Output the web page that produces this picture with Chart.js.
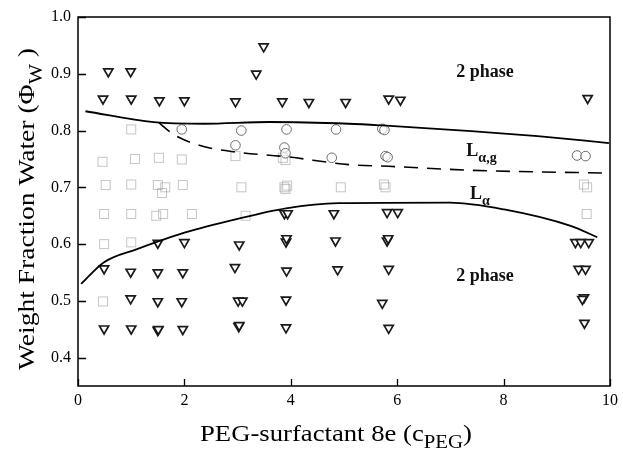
<!DOCTYPE html>
<html><head><meta charset="utf-8">
<script src="https://cdn.jsdelivr.net/npm/chart.js@4.4.0/dist/chart.umd.min.js"></script>
<style>html,body{margin:0;padding:0;background:#fff;}</style>
</head><body>
<canvas id="c" width="623" height="458"></canvas>
<script>
// ---- data ----
const xTicks = [0, 2, 4, 6, 8, 10];
const yTicks = [0.4, 0.5, 0.6, 0.7, 0.8, 0.9, 1.0];

// two-phase samples (triangles)
const triX = [0.57,0.99,3.49,3.35, 0.47,1.0,1.53,2.0,2.96,3.84,4.34,5.03,5.84,6.06,9.58,
  1.5,2.0,3.03,3.91,3.92,4.84,5.81,5.83,9.35,9.45,9.6,
  3.88,3.94,4.81,5.81,6.01,
  0.49,0.99,1.5,1.97,2.95,3.92,4.88,5.84,9.41,9.54,
  0.99,1.5,1.95,3.01,3.09,3.91,5.72,9.51,9.48,
  0.49,1.0,1.5,1.51,1.97,3.02,3.03,3.91,5.84,9.52];
const triY = [0.904,0.904,0.948,0.90, 0.856,0.856,0.853,0.853,0.851,0.851,0.85,0.85,0.856,0.854,0.857,
  0.602,0.603,0.599,0.604,0.61,0.606,0.606,0.61,0.603,0.603,0.603,
  0.654,0.654,0.654,0.656,0.656,
  0.557,0.551,0.55,0.55,0.559,0.553,0.555,0.556,0.556,0.556,
  0.504,0.499,0.499,0.50,0.50,0.502,0.496,0.506,0.503,
  0.451,0.451,0.448,0.45,0.45,0.455,0.457,0.453,0.452,0.461];

// L alpha,g samples (circles)
const circX = [1.95,3.07,3.92,4.85,5.72,5.76,2.96,3.88,3.9,4.77,5.78,5.82,9.38,9.54];
const circY = [0.802,0.80,0.802,0.802,0.803,0.801,0.774,0.77,0.76,0.752,0.755,0.753,0.756,0.755];

// L alpha samples (squares)
const sqX = [1.0, 0.46,1.07,1.52,1.95,2.96,3.85,3.9,
  0.52,1.0,1.5,1.64,1.58,1.97,3.07,3.88,3.93,3.9,4.94,5.75,5.78,9.51,9.57,
  0.49,1.0,1.47,1.6,2.14,3.15,9.56,
  0.49,1.0, 0.47];
const sqY = [0.802, 0.745,0.75,0.752,0.749,0.755,0.752,0.748,
  0.704,0.705,0.704,0.70,0.69,0.704,0.70,0.70,0.703,0.697,0.70,0.705,0.70,0.705,0.70,
  0.653,0.653,0.65,0.653,0.653,0.65,0.653,
  0.60,0.603, 0.499];

// phase boundaries
const upperX = [0.14,1.42,2.36,3.6,5.09,5.72,7.39,8.64,9.98];
const upperY = [0.834,0.815,0.812,0.815,0.812,0.809,0.799,0.79,0.778];
const dashX = [1.52,1.8,2.36,2.98,3.91,5.09,5.84,7.39,9.98];
const dashY = [0.814,0.793,0.772,0.762,0.754,0.74,0.737,0.73,0.725];
const lowerX = [0.06,0.49,1.11,2.0,2.98,3.91,4.9,6.99,8.01,9.26,9.76];
const lowerY = [0.53,0.568,0.591,0.62,0.644,0.663,0.672,0.673,0.661,0.632,0.612];

const zip = (xs, ys) => xs.map((x, i) => ({x: x, y: ys[i]}));

// region labels: [main, subscript, x, y]
const regionLabels = [
  ['2 phase', '', 7.65, 0.905],
  ['L', 'α,g', 7.3, 0.765],
  ['L', 'α', 7.37, 0.69],
  ['2 phase', '', 7.65, 0.545]
];

// ---- styles ----
const SERIF = '"Liberation Serif", "DejaVu Serif", serif';
function dottedSquare() {
  const c = document.createElement('canvas');
  c.width = 12; c.height = 12;
  const g = c.getContext('2d');
  g.strokeStyle = '#8a8a8a'; g.lineWidth = 1;
  g.setLineDash([1, 1]);
  g.strokeRect(1.5, 1.5, 9, 9);
  return c;
}

function measureRich(ctx, parts, size, weight) {
  let w = 0;
  parts.forEach(p => {
    const s = p.sub ? size * 0.78 : size;
    ctx.font = `${weight} ${s}px ${SERIF}`;
    p.w = ctx.measureText(p.t).width; w += p.w;
  });
  return w;
}
function drawRich(ctx, parts, x, y, size, weight, align) {
  const w = measureRich(ctx, parts, size, weight);
  let cx = align === 'center' ? x - w / 2 : x;
  parts.forEach(p => {
    const s = p.sub ? size * 0.78 : size;
    ctx.font = `${weight} ${s}px ${SERIF}`;
    ctx.fillText(p.t, cx, y + (p.sub ? size * 0.32 : 0));
    cx += p.w;
  });
}
// draw centred, stretched horizontally to a target width
function drawRichFit(ctx, parts, size, target) {
  const w = measureRich(ctx, parts, size, 'normal');
  ctx.save();
  ctx.scale(target / w, 1);
  drawRich(ctx, parts, 0, 0, size, 'normal', 'center');
  ctx.restore();
}

const framePlugin = {
  id: 'frame',
  afterDraw(chart) {
    const ctx = chart.ctx, a = chart.chartArea;
    const xs = chart.scales.x, ys = chart.scales.y;
    ctx.save();
    ctx.strokeStyle = '#000'; ctx.lineWidth = 1.5;
    ctx.strokeRect(a.left, a.top, a.right - a.left, a.bottom - a.top);
    ctx.lineWidth = 1.3;
    ctx.beginPath();
    xTicks.forEach(v => {
      const px = Math.round(xs.getPixelForValue(v)) + 0.5;
      ctx.moveTo(px, a.bottom); ctx.lineTo(px, a.bottom - 7);
    });
    yTicks.forEach(v => {
      const py = Math.round(ys.getPixelForValue(v)) + 0.5;
      ctx.moveTo(a.left, py); ctx.lineTo(a.left + 8, py);
    });
    ctx.stroke();

    ctx.fillStyle = '#111';
    ctx.textBaseline = 'alphabetic';
    regionLabels.forEach(r => {
      const px = xs.getPixelForValue(r[2]);
      const py = ys.getPixelForValue(r[3]) + 6;
      if (r[1]) {
        drawRich(ctx, [{t: r[0]}, {t: r[1], sub: true}], px, py, 18, 'bold', 'left');
      } else {
        drawRich(ctx, [{t: r[0]}], px, py, 18, 'bold', 'center');
      }
    });

    // axis titles
    ctx.fillStyle = '#000';
    ctx.save();
    ctx.translate(336, 441);
    drawRichFit(ctx, [{t: 'PEG-surfactant 8e (c'}, {t: 'PEG', sub: true}, {t: ')'}], 23, 272);
    ctx.restore();
    ctx.save();
    ctx.translate(34, 209);
    ctx.rotate(-Math.PI / 2);
    drawRichFit(ctx, [{t: 'Weight Fraction Water (Φ'}, {t: 'W', sub: true}, {t: ' )'}], 24, 322);
    ctx.restore();
    ctx.restore();
  }
};

const sq = dottedSquare();

new Chart(document.getElementById('c'), {
  type: 'scatter',
  data: {
    datasets: [
      {data: zip(sqX, sqY), pointStyle: sq, pointRadius: 6, order: 5},
      {data: zip(circX, circY), pointStyle: 'circle', pointRadius: 4.8, borderColor: '#6a6a6a', borderWidth: 1, backgroundColor: 'rgba(255,255,255,0.6)', order: 4},
      {data: zip(triX, triY), pointStyle: 'triangle', rotation: 180, pointRadius: 5.3, borderColor: '#1a1a1a', borderWidth: 1.7, backgroundColor: '#fff', order: 3},
      {type: 'line', data: zip(upperX, upperY), borderColor: '#000', borderWidth: 1.8, pointRadius: 0, tension: 0.4, cubicInterpolationMode: 'monotone', fill: false, order: 1},
      {type: 'line', data: zip(dashX, dashY), borderColor: '#000', borderWidth: 1.6, borderDash: [14, 9], pointRadius: 0, tension: 0.4, cubicInterpolationMode: 'monotone', fill: false, order: 1},
      {type: 'line', data: zip(lowerX, lowerY), borderColor: '#000', borderWidth: 1.8, pointRadius: 0, tension: 0.4, cubicInterpolationMode: 'monotone', fill: false, order: 1}
    ]
  },
  options: {
    responsive: false,
    animation: false,
    devicePixelRatio: 1,
    layout: {autoPadding: false, padding: {left: 0, right: 10, top: 17, bottom: 0}},
    plugins: {legend: {display: false}, tooltip: {enabled: false}},
    scales: {
      x: {
        type: 'linear', min: 0, max: 10,
        afterBuildTicks: s => { s.ticks = xTicks.map(v => ({value: v})); },
        afterFit: s => { s.height = 72; },
        grid: {display: false, drawTicks: false},
        border: {display: false},
        ticks: {padding: 5, color: '#000', font: {family: SERIF, size: 16}, maxRotation: 0, autoSkip: false}
      },
      y: {
        type: 'linear', min: 0.35, max: 1.0,
        afterBuildTicks: s => { s.ticks = yTicks.map(v => ({value: v})); },
        afterFit: s => { s.width = 78; },
        grid: {display: false, drawTicks: false},
        border: {display: false},
        ticks: {padding: 7, color: '#000', font: {family: SERIF, size: 16}, callback: v => v.toFixed(1), autoSkip: false}
      }
    }
  },
  plugins: [framePlugin]
});
</script>
</body></html>
